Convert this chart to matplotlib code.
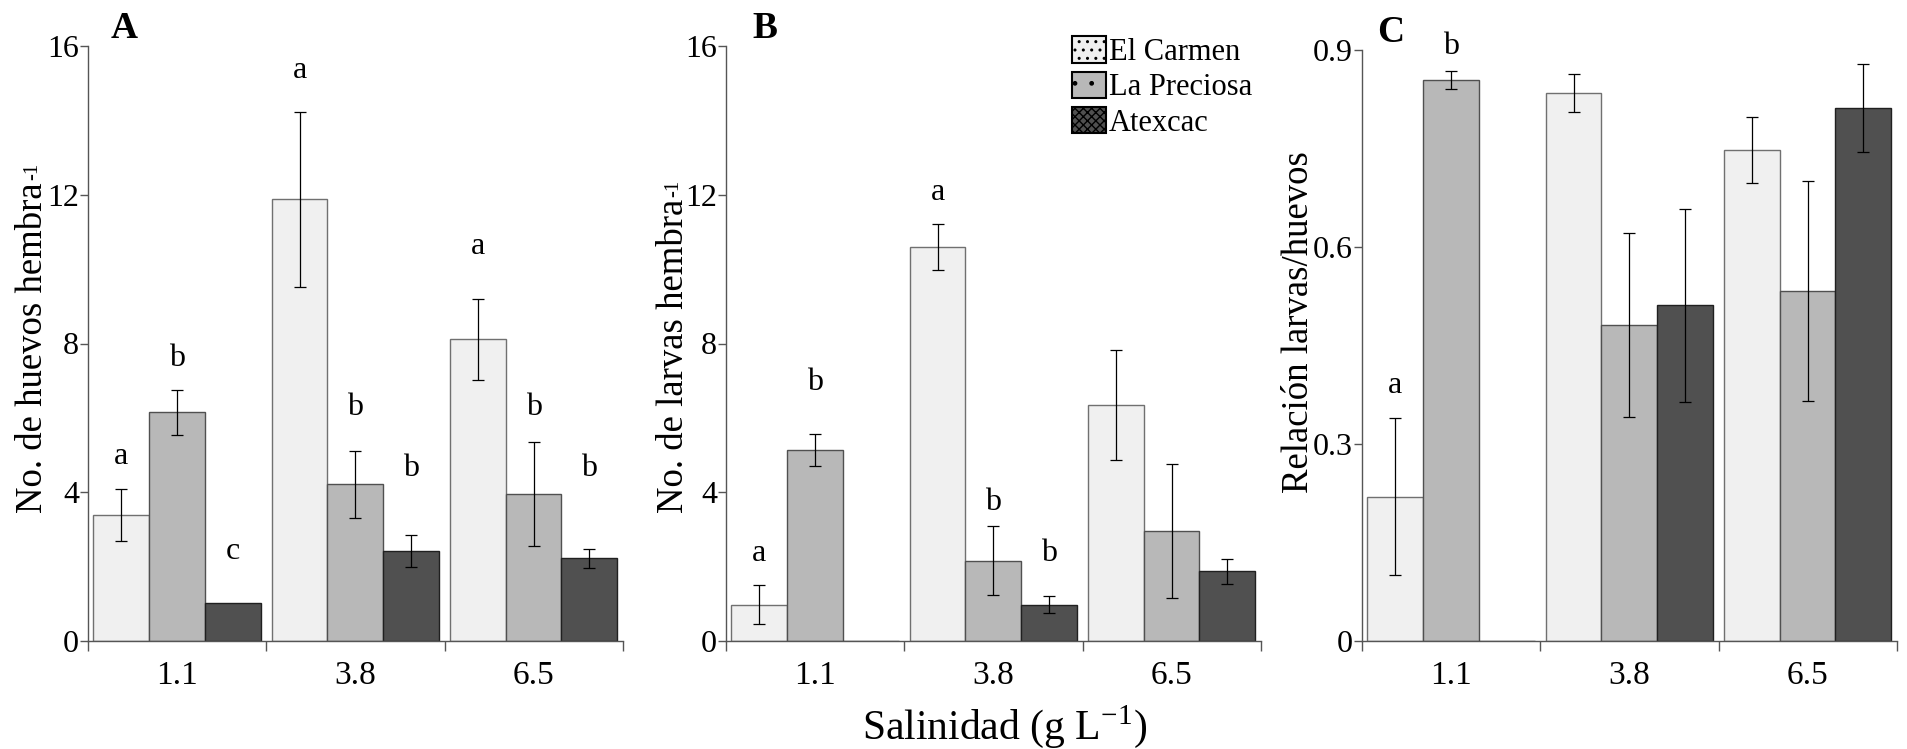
import matplotlib.pyplot as plt
from matplotlib.patches import Patch
from matplotlib.transforms import IdentityTransform

plt.rcParams['font.family'] = ['Liberation Serif', 'DejaVu Serif']
plt.rcParams['mathtext.fontset'] = 'stix'

# datos
salinidad = ['1.1', '3.8', '6.5']
sitios = ['El Carmen', 'La Preciosa', 'Atexcac']
colores = ['#f0f0f0', '#b8b8b8', '#505050']
bordes = ['#707070', '#505050', '#202020']

# A: huevos por hembra (filas = sitio, columnas = salinidad)
huevos = [[3.4, 11.88, 8.11], [6.15, 4.22, 3.96], [1.01, 2.42, 2.22]]
huevos_err = [[0.7, 2.35, 1.08], [0.6, 0.9, 1.4], [0.0, 0.42, 0.25]]
huevos_letras = [['a', 'a', 'a'], ['b', 'b', 'b'], ['c', 'b', 'b']]
huevos_letras_y = [[4.97, 15.35, 10.6], [7.59, 6.28, 6.28], [2.42, 4.65, 4.65]]

# B: larvas por hembra
larvas = [[0.98, 10.6, 6.35], [5.14, 2.16, 2.95], [0.0, 0.98, 1.87]]
larvas_err = [[0.52, 0.62, 1.47], [0.43, 0.92, 1.8], [0.0, 0.23, 0.33]]
larvas_letras = [['a', 'a', None], ['b', 'b', None], [None, 'b', None]]
larvas_letras_y = [[2.36, 12.07, 0], [6.94, 3.73, 0], [0, 2.36, 0]]

# C: relacion larvas/huevos
relacion = [[0.22, 0.835, 0.748], [0.854, 0.481, 0.533], [0.0, 0.511, 0.811]]
relacion_err = [[0.12, 0.029, 0.05], [0.014, 0.14, 0.168], [0.0, 0.147, 0.067]]
relacion_letras = [['a', None, None], ['b', None, None], [None, None, None]]
relacion_letras_y = [[0.389, 0, 0], [0.906, 0, 0], [0, 0, 0]]

W, H = 1907, 749


def panel(ax, valores, errores, letras, letras_y, ymax, yticks, yticklabels,
          letra, letra_x):
    w = 0.3125
    for j in range(3):
        xs = [g + 0.03 + w * (j + 0.5) for g in range(3)]
        ax.bar(xs, valores[j], width=w, color=colores[j], edgecolor=bordes[j],
               linewidth=1.0, zorder=2)
        for x, v, e in zip(xs, valores[j], errores[j]):
            if e > 0:
                ax.errorbar(x, v, yerr=e, color='black', elinewidth=0.9,
                            capsize=4, capthick=0.9, zorder=3)
        for x, l, ly in zip(xs, letras[j], letras_y[j]):
            if l:
                ax.text(x, ly, l, ha='center', va='center', fontsize=23)
    ax.set_xlim(0, 3)
    ax.set_ylim(0, ymax)
    ax.set_yticks(yticks)
    ax.set_yticklabels(yticklabels)
    ax.set_xticks([0.5, 1.5, 2.5])
    ax.set_xticklabels(salinidad)
    ax.set_xticks([0, 1, 2, 3], minor=True)
    ax.tick_params(axis='x', which='major', length=0, labelsize=24, pad=14)
    ax.tick_params(axis='x', which='minor', length=7, width=1, color='#555555')
    ax.tick_params(axis='y', length=6, width=1, color='#555555', labelsize=23, pad=0.5)
    for s in ['top', 'right']:
        ax.spines[s].set_visible(False)
    for s in ['left', 'bottom']:
        ax.spines[s].set_color('#555555')
        ax.spines[s].set_linewidth(1.0)
    ax.text(letra_x, ymax * 1.03, letra, fontsize=27, fontweight='bold',
            ha='center', va='center', clip_on=False)


fig = plt.figure(figsize=(W / 100, H / 100), dpi=100)
bot = 1 - 641 / H
h = (641 - 46) / H
axA = fig.add_axes([88 / W, bot, 535 / W, h])
axB = fig.add_axes([726 / W, bot, 535 / W, h])
axC = fig.add_axes([1362 / W, bot, 535 / W, (641 - 50) / H])

panel(axA, huevos, huevos_err, huevos_letras, huevos_letras_y, 16,
      [0, 4, 8, 12, 16], ['0', '4', '8', '12', '16'], 'A', 0.2)
panel(axB, larvas, larvas_err, larvas_letras, larvas_letras_y, 16,
      [0, 4, 8, 12, 16], ['0', '4', '8', '12', '16'], 'B', 0.22)
panel(axC, relacion, relacion_err, relacion_letras, relacion_letras_y, 0.9,
      [0, 0.3, 0.6, 0.9], ['0', '0.3', '0.6', '0.9'], 'C', 0.16)

# etiquetas del eje y (texto girado, con el "-1" pequeño al final)
etiquetas_y = [('No. de huevos hembra', '-1', 42, 513),
               ('No. de larvas hembra', '-1', 683, 513),
               ('Relación larvas/huevos', '', 1308, 493)]
principales = []
for texto, sub, xb, y0 in etiquetas_y:
    t = fig.text(xb, H - y0, texto, transform=IdentityTransform(), rotation=90,
                 rotation_mode='anchor', ha='left', va='baseline', fontsize=26.5)
    principales.append((t, sub, xb))
fig.canvas.draw()
r = fig.canvas.get_renderer()
for t, sub, xb in principales:
    if sub:
        bb = t.get_window_extent(r)
        fig.text(xb - 5, bb.y1 + 2, sub, transform=IdentityTransform(), rotation=90,
                 rotation_mode='anchor', ha='left', va='baseline', fontsize=15)

fig.text(1005 / W, 1 - 727 / H, r'Salinidad (g L$^{\mathregular{-1}}$)',
         fontsize=30, ha='center', va='center')

hatches = ['..', '.', 'xxxx']
handles = [Patch(facecolor=c, edgecolor='black', hatch=hh, linewidth=1.5)
           for c, hh in zip(colores, hatches)]
fig.legend(handles, sitios, loc='upper left', bbox_to_anchor=(1051 / W, 1 - 15 / H),
           frameon=False, fontsize=22, handlelength=1.1, handleheight=0.95,
           handletextpad=0.1, labelspacing=0.15, borderpad=0.2)

fig.savefig('out.png', dpi=100)
